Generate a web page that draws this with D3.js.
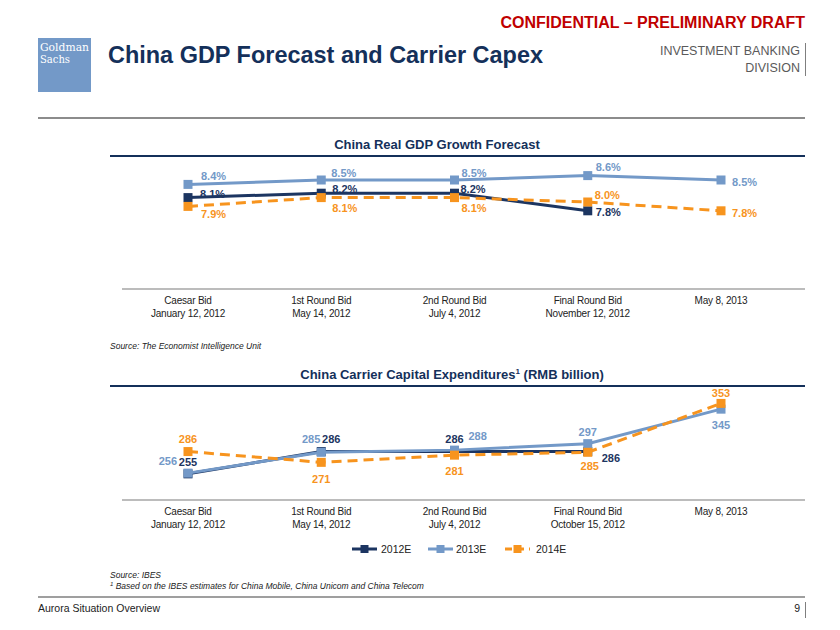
<!DOCTYPE html>
<html><head><meta charset="utf-8">
<script src="https://cdn.jsdelivr.net/npm/d3@7"></script>
<style>body{margin:0;background:#fff}svg{display:block;font-family:"Liberation Sans",Arial,sans-serif}</style>
</head><body><svg id="c" width="840" height="630"></svg>
<script>
// ---- data ----
const gdpCategories = ["Caesar Bid|January 12, 2012","1st Round Bid|May 14, 2012","2nd Round Bid|July 4, 2012","Final Round Bid|November 12, 2012","May 8, 2013"];
const capexCategories = ["Caesar Bid|January 12, 2012","1st Round Bid|May 14, 2012","2nd Round Bid|July 4, 2012","Final Round Bid|October 15, 2012","May 8, 2013"];
const seriesNames = ["2012E","2013E","2014E"];
const gdp2012 = [8.1, 8.2, 8.2, 7.8];
const gdp2013 = [8.4, 8.5, 8.5, 8.6, 8.5];
const gdp2014 = [7.9, 8.1, 8.1, 8.0, 7.8];
const capex2012 = [255, 286, 286, 286];
const capex2013 = [256, 285, 288, 297, 345];
const capex2014 = [286, 271, 281, 285, 353];

const NAVY = "#1c3561", LBLUE = "#7399c8", ORANGE = "#f7941e", TITLE = "#14305a";
const svg = d3.select("#c");

// ---- header ----
svg.append("text").attr("x",805).attr("y",28).attr("text-anchor","end")
  .attr("font-size",16).attr("font-weight","bold").attr("fill","#c00000")
  .text("CONFIDENTIAL – PRELIMINARY DRAFT");
svg.append("rect").attr("x",38).attr("y",38).attr("width",53).attr("height",54).attr("fill","#7399c8");
svg.append("text").attr("x",40).attr("y",51).attr("font-family","'DejaVu Serif',serif").attr("font-size",11)
  .attr("fill","#fff").attr("textLength",49).attr("lengthAdjust","spacingAndGlyphs").text("Goldman");
svg.append("text").attr("x",40).attr("y",63).attr("font-family","'DejaVu Serif',serif").attr("font-size",11)
  .attr("fill","#fff").attr("textLength",30).attr("lengthAdjust","spacingAndGlyphs").text("Sachs");
svg.append("text").attr("x",108).attr("y",63).attr("font-size",24).attr("font-weight","bold").attr("fill",TITLE)
  .attr("textLength",435).attr("lengthAdjust","spacingAndGlyphs").text("China GDP Forecast and Carrier Capex");
svg.append("text").attr("x",800).attr("y",55).attr("text-anchor","end").attr("font-size",12.5).attr("fill","#5a5a5a")
  .text("INVESTMENT BANKING");
svg.append("text").attr("x",800).attr("y",72).attr("text-anchor","end").attr("font-size",12.5).attr("fill","#5a5a5a")
  .text("DIVISION");
svg.append("line").attr("x1",805.5).attr("x2",805.5).attr("y1",43).attr("y2",76).attr("stroke","#7f7f7f").attr("stroke-width",1);
svg.append("line").attr("x1",38).attr("x2",805).attr("y1",118).attr("y2",118).attr("stroke","#8c8c8c").attr("stroke-width",2);

// ---- shared x scale ----
const x = d3.scalePoint().domain(d3.range(5)).range([188, 721]);

function chart(opts){
  const g = svg.append("g");
  g.append("text").attr("x",opts.titleX).attr("y",opts.titleY).attr("text-anchor","middle")
    .attr("font-size",13).attr("font-weight","bold").attr("fill",TITLE).html(opts.title);
  g.append("line").attr("x1",110).attr("x2",805).attr("y1",opts.titleY+7).attr("y2",opts.titleY+7)
    .attr("stroke",TITLE).attr("stroke-width",2);
  const y = d3.scaleLinear().domain(opts.domain).range(opts.range);
  // axis
  const ax = g.append("g").attr("transform",`translate(0,${opts.axisY})`)
    .call(d3.axisBottom(x).tickSize(0).tickFormat(""));
  ax.select(".domain").attr("stroke","#a6a6a6").attr("stroke-width",1.5).attr("d","M122,0H805");
  ax.selectAll(".tick text").remove();
  opts.cats.forEach((c,i)=>{
    const parts = c.split("|");
    parts.forEach((p,j)=>{
      g.append("text").attr("x",x(i)).attr("y",opts.axisY+15+j*13).attr("text-anchor","middle")
        .attr("font-size",10).attr("fill","#222").attr("letter-spacing",-0.2).text(p);
    });
  });
  const line = d3.line().x((d,i)=>x(i)).y(d=>y(d));
  const sers = [
    {vals:opts.s2012, color:NAVY, dash:null, lbl:opts.l2012},
    {vals:opts.s2013, color:LBLUE, dash:null, lbl:opts.l2013},
    {vals:opts.s2014, color:ORANGE, dash:"10,6", lbl:opts.l2014}
  ];
  sers.forEach(s=>{
    g.append("path").datum(s.vals).attr("d",line).attr("fill","none").attr("stroke",s.color)
      .attr("stroke-width",3).attr("stroke-dasharray",s.dash);
    g.selectAll(null).data(s.vals).enter().append("rect")
      .attr("x",(d,i)=>x(i)-4.5).attr("y",d=>y(d)-4.5).attr("width",9).attr("height",9).attr("fill",s.color);
  });
  sers.forEach(s=>{
    g.selectAll(null).data(s.vals).enter().append("text")
      .attr("x",(d,i)=>x(i)+s.lbl[i][0]).attr("y",(d,i)=>y(d)+s.lbl[i][1])
      .attr("text-anchor",(d,i)=>s.lbl[i][2]||"start")
      .attr("font-size",11).attr("font-weight","bold").attr("fill",s.color)
      .text(d=>opts.fmt(d));
  });
}

chart({
  title:"China Real GDP Growth Forecast", titleX:437, titleY:149,
  domain:[6,9], range:[290,158], axisY:289, cats:gdpCategories,
  s2012:gdp2012, s2013:gdp2013, s2014:gdp2014,
  fmt:d=>d.toFixed(1)+"%",
  l2012:[[12,0],[11,0],[6,0],[8,5]],
  l2013:[[13,-4],[10,-3],[7,-3],[8,-5],[11,6]],
  l2014:[[13,12],[11,14],[7,14],[7,-3],[11,6]]
});
svg.append("text").attr("x",110).attr("y",349).attr("font-size",8.5).attr("font-style","italic").attr("fill","#222")
  .text("Source: The Economist Intelligence Unit");

chart({
  title:"China Carrier Capital Expenditures<tspan font-size='8' dy='-5'>1</tspan><tspan dy='5'> (RMB billion)</tspan>", titleX:452, titleY:379,
  domain:[220,380], range:[499,384], axisY:500, cats:capexCategories,
  s2012:capex2012, s2013:capex2013, s2014:capex2014,
  fmt:d=>d3.format("d")(d),
  l2012:[[0,-8,"middle"],[10,-9,"middle"],[0,-9,"middle"],[14,10]],
  l2013:[[-11,-8,"end"],[-1,-9,"end"],[14,-10],[0,-8,"middle"],[0,20,"middle"]],
  l2014:[[0,-9,"middle"],[0,21,"middle"],[0,20,"middle"],[2,18,"middle"],[0,-6,"middle"]]
});

// legend
const leg = svg.append("g");
const legItems = [{n:seriesNames[0],c:NAVY,x:352,tx:381,d:null},{n:seriesNames[1],c:LBLUE,x:428,tx:456,d:null},{n:seriesNames[2],c:ORANGE,x:505,tx:536,d:"7,5"}];
legItems.forEach(it=>{
  leg.append("line").attr("x1",it.x).attr("x2",it.x+25).attr("y1",549).attr("y2",549)
    .attr("stroke",it.c).attr("stroke-width",3).attr("stroke-dasharray",it.d);
  leg.append("rect").attr("x",it.x+8.5).attr("y",545).attr("width",8).attr("height",8).attr("fill",it.c);
  leg.append("text").attr("x",it.tx).attr("y",553).attr("font-size",10.5).attr("fill","#222").text(it.n);
});

svg.append("text").attr("x",110).attr("y",578).attr("font-size",8.5).attr("font-style","italic").attr("fill","#222")
  .text("Source: IBES");
svg.append("text").attr("x",110).attr("y",589).attr("font-size",8.5).attr("font-style","italic").attr("fill","#222")
  .html("<tspan font-size='6' dy='-3'>1</tspan><tspan dy='3'> Based on the IBES estimates for China Mobile, China Unicom and China Telecom</tspan>");

// footer
svg.append("line").attr("x1",38).attr("x2",805).attr("y1",597).attr("y2",597).attr("stroke","#7f7f7f").attr("stroke-width",1.5);
svg.append("text").attr("x",38).attr("y",612).attr("font-size",10.5).attr("fill","#222").text("Aurora Situation Overview");
svg.append("text").attr("x",800).attr("y",612).attr("text-anchor","end").attr("font-size",10.5).attr("fill","#222").text("9");
svg.append("line").attr("x1",805.5).attr("x2",805.5).attr("y1",602).attr("y2",618).attr("stroke","#7f7f7f").attr("stroke-width",1);
</script></body></html>
